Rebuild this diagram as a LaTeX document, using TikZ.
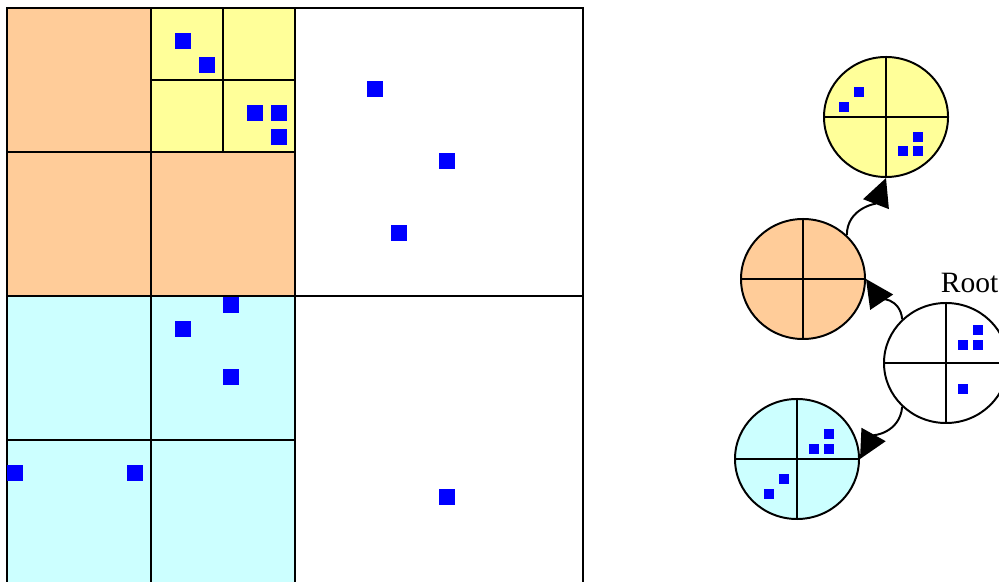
\documentclass[tikz,border=0pt]{standalone}
\usepackage{fontspec}
\setmainfont{Liberation Serif}
\usepackage{tikz}
\usetikzlibrary{positioning,shapes.geometric,arrows.meta}

\definecolor{arancio}{HTML}{FFCC99}
\definecolor{giallo}{HTML}{FFFF99}
\definecolor{ciano}{HTML}{CCFFFF}
\definecolor{blu}{HTML}{0000FF}

\begin{document}
\begin{tikzpicture}[x=0.025cm, y=-0.025cm, line width=1.4pt,
		nodo/.style={ellipse, draw, minimum width=3.1cm, minimum height=3.0cm, inner sep=0pt},
		punto/.style={fill=blu},
		freccia/.style={-{Triangle[length=0.7cm, width=0.68cm]}, line width=1.4pt}]
	\useasboundingbox (0,0) rectangle (999,582);

	% Riempimento dei quadranti
	\fill[arancio] (7,8) rectangle (295,296);
	\fill[giallo] (151,8) rectangle (295,152);
	\fill[ciano] (7,296) rectangle (295,584);

	% Griglia del quadtree
	\draw (7,8) rectangle (583,584);
	\draw (295,8) -- (295,584);
	\draw (7,296) -- (583,296);
	\draw (151,8) -- (151,584);
	\draw (7,152) -- (295,152);
	\draw (7,440) -- (295,440);
	\draw (223,8) -- (223,152);
	\draw (151,80) -- (295,80);

	% Punti nel piano
	\foreach \px/\py in {183/41, 207/65, 255/113, 279/113, 279/137,
			375/89, 447/161, 399/233, 231/305, 183/329, 231/377,
			15/473, 135/473, 447/497}
		\fill[punto] (\px-8,\py-8) rectangle ++(16,16);

	% Nodi dell'albero
	\node[nodo, fill=giallo] (giallo) at (886,117) {};
	\node[nodo, fill=arancio] (arancio) at (803,279) {};
	\node[nodo, fill=white] (radice) at (946,363) {};
	\node[nodo, fill=ciano] (ciano) at (797,459) {};
	\node[anchor=base west, font=\fontsize{21}{24}\selectfont, inner sep=0pt] (etichetta) at (940,293) {Root};

	% Croci dentro i nodi
	\foreach \n in {giallo, arancio, radice, ciano} {
		\draw (\n.north) -- (\n.south);
		\draw (\n.west) -- (\n.east);
	}

	% Punti nei nodi
	\foreach \px/\py in {859/92, 844/107, 918/137, 903/151, 918/151,
			978/330, 963/345, 978/345, 963/389,
			829/434, 814/449, 829/449, 784/479, 769/494}
		\fill[punto] (\px-5,\py-5) rectangle ++(10,10);

	% Archi
	\draw[freccia] (arancio.45) to[out=90, in=-111] (giallo.south);
	\draw[freccia] (radice.135) to[out=95, in=-56] (arancio.east);
	\draw[freccia] (radice.225) to[out=-95, in=61] (ciano.east);
\end{tikzpicture}
\end{document}
